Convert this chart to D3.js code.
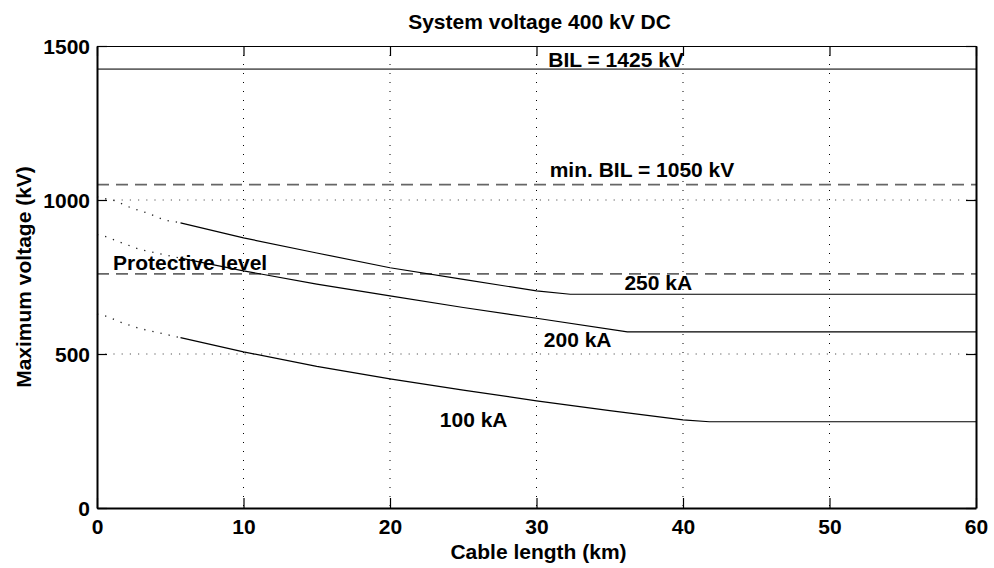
<!DOCTYPE html>
<html>
<head>
<meta charset="utf-8">
<script src="https://cdn.jsdelivr.net/npm/d3@7"></script>
<style>
  body { margin: 0; background: #fff; }
  text { font-family: "Liberation Sans", Arial, sans-serif; fill: #000; }
</style>
</head>
<body>
<svg id="chart" width="994" height="568"></svg>
<script>
// Axes
const xTicks = [0, 10, 20, 30, 40, 50, 60];
const yTicks = [0, 500, 1000, 1500];

// Reference levels (kV)
const levelValues = [1425, 1050, 760];
const levelStyles = ["solid", "dashed", "dashed"];

// Curves: cable length (km) -> maximum voltage (kV); dotted up to 5.7 km
const solidFrom = 5.7;
const km250 = [0, 1.2, 2.4, 3.5, 4.6, 5.7, 10, 15, 20, 25, 30, 32.3, 60];
const kv250 = [1010, 998, 973, 957, 935, 926, 877, 828, 780, 742, 705, 694, 694];
const km200 = [0, 0.6, 1.8, 2.9, 4.1, 5.7, 10, 15, 20, 25, 30, 36.2, 60];
const kv200 = [888, 881, 859, 840, 827, 811, 770, 727, 689, 651, 616, 572, 572];
const km100 = [0, 0.6, 1.8, 2.9, 4.2, 5.7, 10, 15, 20, 25, 30, 35, 40, 41.8, 60];
const kv100 = [630, 623, 600, 583, 569, 553, 507, 460, 419, 383, 348, 316, 286, 280, 280];

// Text annotations (data coordinates)
const noteText = ["BIL = 1425 kV", "min. BIL = 1050 kV", "Protective level", "250 kA", "200 kA", "100 kA"];
const noteKm = [30.8, 30.9, 1.1, 36.0, 30.5, 23.4];
const noteKv = [1432, 1076, 773, 708, 524, 264];

const svg = d3.select("#chart"),
  width = +svg.attr("width"),
  height = +svg.attr("height");
const margin = { top: 46, right: 18, bottom: 60, left: 97 };
const fontSize = 21;

const x = d3.scaleLinear().domain([0, 60]).range([margin.left, width - margin.right]);
const y = d3.scaleLinear().domain([0, 1500]).range([height - margin.bottom, margin.top]);

// grille pointillée
svg.append("g")
  .selectAll("line")
  .data(xTicks.slice(1, -1))
  .enter()
  .append("line")
  .attr("x1", (d) => x(d)).attr("x2", (d) => x(d))
  .attr("y1", y(1500)).attr("y2", y(0))
  .attr("stroke", "#000").attr("stroke-width", 1)
  .attr("stroke-dasharray", "1,8");

svg.append("g")
  .selectAll("line")
  .data(yTicks.slice(1, -1))
  .enter()
  .append("line")
  .attr("x1", x(0)).attr("x2", x(60))
  .attr("y1", (d) => y(d)).attr("y2", (d) => y(d))
  .attr("stroke", "#555").attr("stroke-width", 1.2)
  .attr("stroke-dasharray", "1.2,7");

// niveaux de référence
svg.append("g")
  .selectAll("line")
  .data(levelValues)
  .enter()
  .append("line")
  .attr("x1", x(0)).attr("x2", x(60))
  .attr("y1", (d) => y(d)).attr("y2", (d) => y(d))
  .attr("stroke", "#666").attr("stroke-width", 1.6)
  .attr("stroke-dasharray", (d, i) => (levelStyles[i] === "dashed" ? "12,7" : null));

// courbes
const line = d3.line().x((d) => x(d[0])).y((d) => y(d[1]));
const curves = [[km250, kv250], [km200, kv200], [km100, kv100]];
curves.forEach(([ks, vs]) => {
  const pts = ks.map((k, i) => [k, vs[i]]);
  svg.append("path")
    .datum(pts.filter((p) => p[0] <= solidFrom))
    .attr("d", line)
    .attr("fill", "none")
    .attr("stroke", "#222").attr("stroke-width", 1.3)
    .attr("stroke-dasharray", "1.3,7");
  svg.append("path")
    .datum(pts.filter((p) => p[0] >= solidFrom))
    .attr("d", line)
    .attr("fill", "none")
    .attr("stroke", "#000").attr("stroke-width", 1.2);
});

// annotations
svg.append("g")
  .selectAll("text")
  .data(noteText)
  .enter()
  .append("text")
  .attr("x", (d, i) => x(noteKm[i]))
  .attr("y", (d, i) => y(noteKv[i]))
  .attr("font-size", fontSize)
  .attr("font-weight", "bold")
  .text((d) => d);

// cadre et graduations
const fmt = d3.format("d");
const axisBottom = d3.axisBottom(x).tickValues(xTicks).tickSizeInner(-10).tickSizeOuter(0).tickPadding(11).tickFormat(fmt);
const axisTop = d3.axisTop(x).tickValues(xTicks).tickSizeInner(-10).tickSizeOuter(0).tickFormat("");
const axisLeft = d3.axisLeft(y).tickValues(yTicks).tickSizeInner(-10).tickSizeOuter(0).tickPadding(7).tickFormat(fmt);
const axisRight = d3.axisRight(y).tickValues(yTicks).tickSizeInner(-10).tickSizeOuter(0).tickFormat("");

function styleAxis(g) {
  g.select(".domain").attr("stroke-width", 2);
  g.selectAll(".tick line").attr("stroke-width", 1.2);
  g.selectAll(".tick text")
    .attr("font-size", fontSize)
    .attr("font-weight", "bold")
    .attr("font-family", "'Liberation Sans', Arial, sans-serif");
}

const gBottom = svg.append("g").attr("transform", `translate(0,${y(0)})`).call(axisBottom).call(styleAxis);
svg.append("g").attr("transform", `translate(0,${y(1500)})`).call(axisTop).call(styleAxis)
  .select(".domain").attr("stroke-width", 1.2);
const gLeft = svg.append("g").attr("transform", `translate(${x(0)},0)`).call(axisLeft).call(styleAxis);
svg.append("g").attr("transform", `translate(${x(60)},0)`).call(axisRight).call(styleAxis);

gBottom.selectAll(".tick text").attr("dy", "0.71em");
gLeft.selectAll(".tick text").attr("dy", "0.36em");

// titres
svg.append("text")
  .attr("x", (x(0) + x(60)) / 2 + 3)
  .attr("y", 29)
  .attr("text-anchor", "middle")
  .attr("font-size", fontSize)
  .attr("font-weight", "bold")
  .text("System voltage 400 kV DC");

svg.append("text")
  .attr("x", (x(0) + x(60)) / 2 + 2)
  .attr("y", 559)
  .attr("text-anchor", "middle")
  .attr("font-size", fontSize)
  .attr("font-weight", "bold")
  .text("Cable length (km)");

svg.append("text")
  .attr("transform", `translate(31,${(y(0) + y(1500)) / 2}) rotate(-90)`)
  .attr("text-anchor", "middle")
  .attr("font-size", fontSize)
  .attr("font-weight", "bold")
  .text("Maximum voltage (kV)");
</script>
</body>
</html>
